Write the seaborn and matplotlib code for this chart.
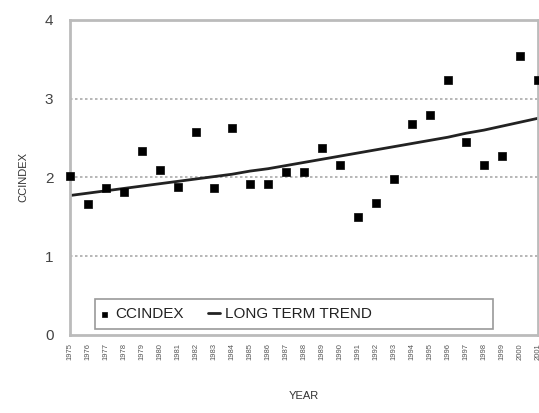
import matplotlib
matplotlib.use("Agg")
import matplotlib.pyplot as plt
from matplotlib.patches import Rectangle
import seaborn as sns
import pandas as pd

years = list(range(1975, 2002))
ccindex = [2.02, 1.66, 1.87, 1.82, 2.34, 2.10, 1.88, 2.57, 1.87, 2.63,
           1.92, 1.92, 2.07, 2.07, 2.37, 2.16, 1.50, 1.68, 1.98, 2.68,
           2.79, 3.24, 2.45, 2.16, 2.27, 3.54, 3.24]
trend = [1.77, 1.80, 1.83, 1.86, 1.89, 1.92, 1.95, 1.98, 2.01, 2.04,
         2.08, 2.11, 2.15, 2.19, 2.23, 2.27, 2.31, 2.35, 2.39, 2.43,
         2.47, 2.51, 2.56, 2.60, 2.65, 2.70, 2.75]
yticks = [0, 1, 2, 3, 4]

df = pd.DataFrame({"YEAR": years, "CCINDEX": ccindex, "TREND": trend})

sns.set_style("white")
plt.rcParams["font.family"] = ["Liberation Sans", "DejaVu Sans"]

fig = plt.figure(figsize=(5.39, 4.13), dpi=100)
ax = fig.add_axes([0.13, 0.189, 0.868, 0.763])

for yv in [1, 2, 3]:
    ax.axhline(yv, color="#aaaaaa", lw=1.2, ls=(0, (1.5, 1.5)), zorder=0)

sns.lineplot(data=df, x="YEAR", y="TREND", ax=ax, color="#222222", lw=2,
             label="LONG TERM TREND", zorder=2)
sns.scatterplot(data=df, x="YEAR", y="CCINDEX", ax=ax, marker="s", s=36,
                color="black", edgecolor="black", label="CCINDEX",
                zorder=3, clip_on=False)

ax.set_xlim(1975, 2001)
ax.set_ylim(0, 4)
ax.set_xticks(years)
ax.set_xticklabels([str(y) for y in years], rotation=90, fontsize=5.5, color="#555555")
ax.set_yticks(yticks)
ax.set_yticklabels([str(v) for v in yticks], fontsize=11, color="#444444")
ax.tick_params(axis="x", direction="out", length=4, width=0.8, color="#888888", pad=2)
ax.tick_params(axis="y", length=0, pad=12)

for sp in ax.spines.values():
    sp.set_color("#bbbbbb")
    sp.set_linewidth(2)

ax.set_xlabel("YEAR", fontsize=8, color="#333333", labelpad=22)
ax.set_ylabel("CCINDEX", fontsize=8, color="#333333", labelpad=12)

# legend box is wider than its entries in the original, so draw the frame separately
box = Rectangle((0.053, 0.019), 0.85, 0.095, transform=ax.transAxes,
                facecolor="white", edgecolor="#999999", lw=1.2, zorder=4)
ax.add_patch(box)

handles, labels = ax.get_legend_handles_labels()
order = [labels.index("CCINDEX"), labels.index("LONG TERM TREND")]
leg = ax.legend([handles[i] for i in order], [labels[i] for i in order],
                loc="center left", bbox_to_anchor=(0.06, 0.066),
                ncol=2, frameon=False, fontsize=11, markerscale=0.6,
                handlelength=0.8, handletextpad=0.3, columnspacing=1.6,
                borderpad=0, borderaxespad=0)
leg.set_zorder(5)
for t in leg.get_texts():
    t.set_color("#222222")

fig.savefig("out.png", dpi=100)
